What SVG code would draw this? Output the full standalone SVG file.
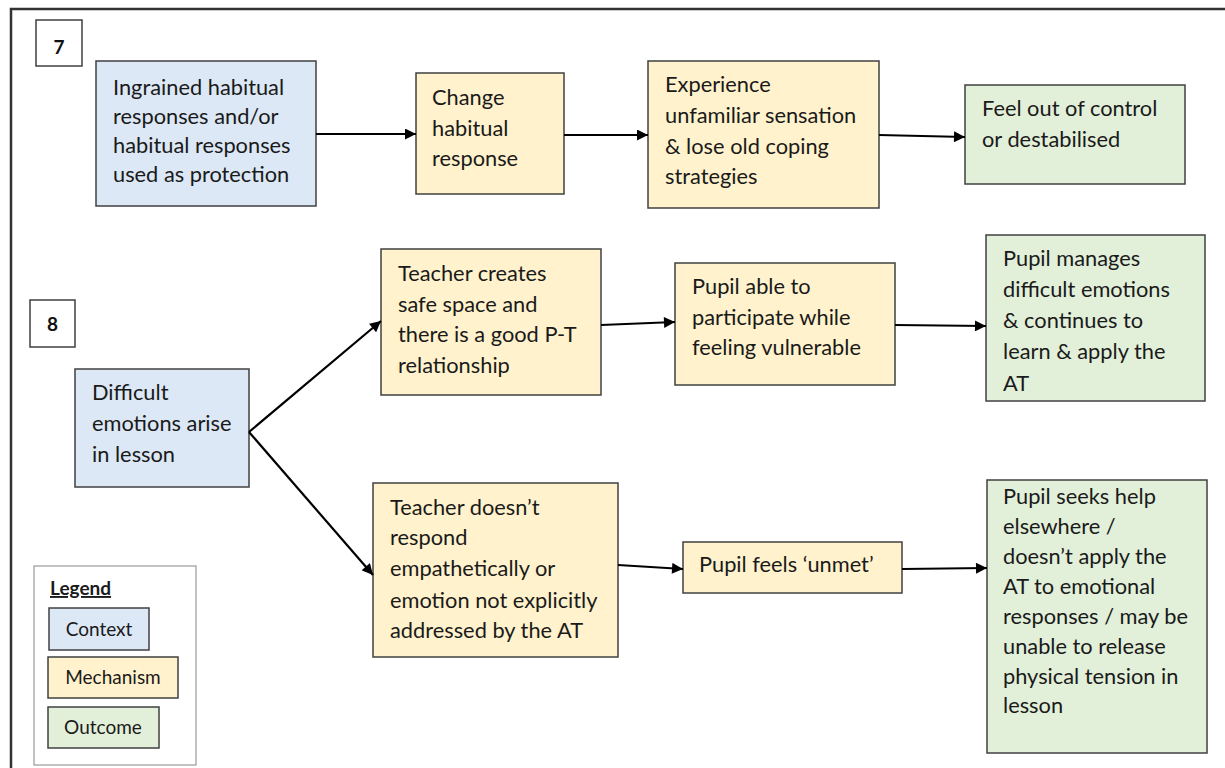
<svg xmlns="http://www.w3.org/2000/svg" width="1225" height="768" viewBox="0 0 1225 768">
<defs>
<style>
.ctx{fill:#dce8f5;stroke:#404040;stroke-width:1.5}
.mec{fill:#fff2cc;stroke:#404040;stroke-width:1.5}
.out{fill:#e2efd9;stroke:#404040;stroke-width:1.5}
.lbl{fill:#fff;stroke:#404040;stroke-width:1.5}
.t{font-family:Lato,"Liberation Sans",sans-serif;font-size:21.8px;fill:#1a1a1a}
.lt{font-family:Lato,"Liberation Sans",sans-serif;font-size:19px;fill:#1a1a1a}
.num{font-family:Lato,"Liberation Sans",sans-serif;font-size:19px;font-weight:bold;fill:#111}
.conn{stroke:#000;stroke-width:2.2;fill:none;marker-end:url(#ah)}
</style>
<marker id="ah" viewBox="0 0 10 10" refX="10" refY="5" markerWidth="5.5" markerHeight="5" orient="auto" markerUnits="strokeWidth">
<path d="M0,0 L10,5 L0,10 z" fill="#000"/>
</marker>
</defs>
<rect width="1225" height="768" fill="#fff"/>
<path d="M11,768 L11,9 L1225,9" fill="none" stroke="#333" stroke-width="2.5"/>

<g id="label7"><rect class="lbl" x="36" y="20" width="46" height="46"/><text class="num" x="59" y="54" text-anchor="middle">7</text></g>
<g id="label8"><rect class="lbl" x="30" y="300" width="45" height="47"/><text class="num" x="52.5" y="331" text-anchor="middle">8</text></g>

<g id="ingrained"><rect class="ctx" x="96" y="61" width="220" height="145"/>
<text class="t" x="113"><tspan x="113" y="95">Ingrained habitual</tspan><tspan x="113" y="124">responses and/or</tspan><tspan x="113" y="153">habitual responses</tspan><tspan x="113" y="182">used as protection</tspan></text></g>

<g id="change"><rect class="mec" x="416" y="73" width="148" height="121"/>
<text class="t"><tspan x="432" y="105">Change</tspan><tspan x="432" y="136">habitual</tspan><tspan x="432" y="166">response</tspan></text></g>

<g id="experience"><rect class="mec" x="648" y="61" width="231" height="147"/>
<text class="t"><tspan x="665" y="92">Experience</tspan><tspan x="665" y="123">unfamiliar sensation</tspan><tspan x="665" y="154">&amp; lose old coping</tspan><tspan x="665" y="184">strategies</tspan></text></g>

<g id="feel"><rect class="out" x="965" y="85" width="220" height="99"/>
<text class="t"><tspan x="982" y="116">Feel out of control</tspan><tspan x="982" y="147">or destabilised</tspan></text></g>

<g id="difficult"><rect class="ctx" x="75" y="369" width="174" height="118"/>
<text class="t"><tspan x="92" y="400">Difficult</tspan><tspan x="92" y="431">emotions arise</tspan><tspan x="92" y="462">in lesson</tspan></text></g>

<g id="teacherCreates"><rect class="mec" x="381" y="249" width="220" height="146"/>
<text class="t"><tspan x="398" y="281">Teacher creates</tspan><tspan x="398" y="312">safe space and</tspan><tspan x="398" y="342">there is a good P-T</tspan><tspan x="398" y="373">relationship</tspan></text></g>

<g id="pupilAble"><rect class="mec" x="675" y="263" width="220" height="122"/>
<text class="t"><tspan x="692" y="294">Pupil able to</tspan><tspan x="692" y="325">participate while</tspan><tspan x="692" y="355">feeling vulnerable</tspan></text></g>

<g id="pupilManages"><rect class="out" x="986" y="235" width="219" height="166"/>
<text class="t"><tspan x="1003" y="266">Pupil manages</tspan><tspan x="1003" y="297">difficult emotions</tspan><tspan x="1003" y="328">&amp; continues to</tspan><tspan x="1003" y="359">learn &amp; apply the</tspan><tspan x="1003" y="391">AT</tspan></text></g>

<g id="teacherDoesnt"><rect class="mec" x="373" y="483" width="245" height="174"/>
<text class="t"><tspan x="390" y="515">Teacher doesn’t</tspan><tspan x="390" y="545">respond</tspan><tspan x="390" y="576">empathetically or</tspan><tspan x="390" y="608">emotion not explicitly</tspan><tspan x="390" y="638">addressed by the AT</tspan></text></g>

<g id="unmet"><rect class="mec" x="683" y="542" width="219" height="51"/>
<text class="t" x="699" y="572">Pupil feels ‘unmet’</text></g>

<g id="seeks"><rect class="out" x="987" y="480" width="220" height="273"/>
<text class="t"><tspan x="1003" y="504">Pupil seeks help</tspan><tspan x="1003" y="534">elsewhere /</tspan><tspan x="1003" y="564">doesn’t apply the</tspan><tspan x="1003" y="594">AT to emotional</tspan><tspan x="1003" y="624">responses / may be</tspan><tspan x="1003" y="654">unable to release</tspan><tspan x="1003" y="684">physical tension in</tspan><tspan x="1003" y="713">lesson</tspan></text></g>

<g id="legend"><rect x="34" y="566" width="162" height="199" fill="#fff" stroke="#999" stroke-width="1.2"/>
<text class="lt" x="50" y="595" font-size="20" font-weight="bold" text-decoration="underline">Legend</text>
<rect class="ctx" x="49" y="608" width="100" height="42"/><text class="lt" x="99" y="636" text-anchor="middle">Context</text>
<rect class="mec" x="48" y="657" width="130" height="41"/><text class="lt" x="113" y="684" text-anchor="middle">Mechanism</text>
<rect class="out" x="48" y="707" width="111" height="41"/><text class="lt" x="103" y="734" text-anchor="middle">Outcome</text>
</g>

<g id="connectors">
<line class="conn" x1="316" y1="134" x2="416" y2="134"/>
<line class="conn" x1="564" y1="135" x2="648" y2="135"/>
<line class="conn" x1="879" y1="135" x2="965" y2="137"/>
<line class="conn" x1="249" y1="432" x2="381" y2="321"/>
<line class="conn" x1="249" y1="432" x2="373" y2="575"/>
<line class="conn" x1="601" y1="325" x2="675" y2="322"/>
<line class="conn" x1="895" y1="325" x2="986" y2="326"/>
<line class="conn" x1="618" y1="565" x2="683" y2="569"/>
<line class="conn" x1="902" y1="569" x2="987" y2="568"/>
</g>
</svg>
